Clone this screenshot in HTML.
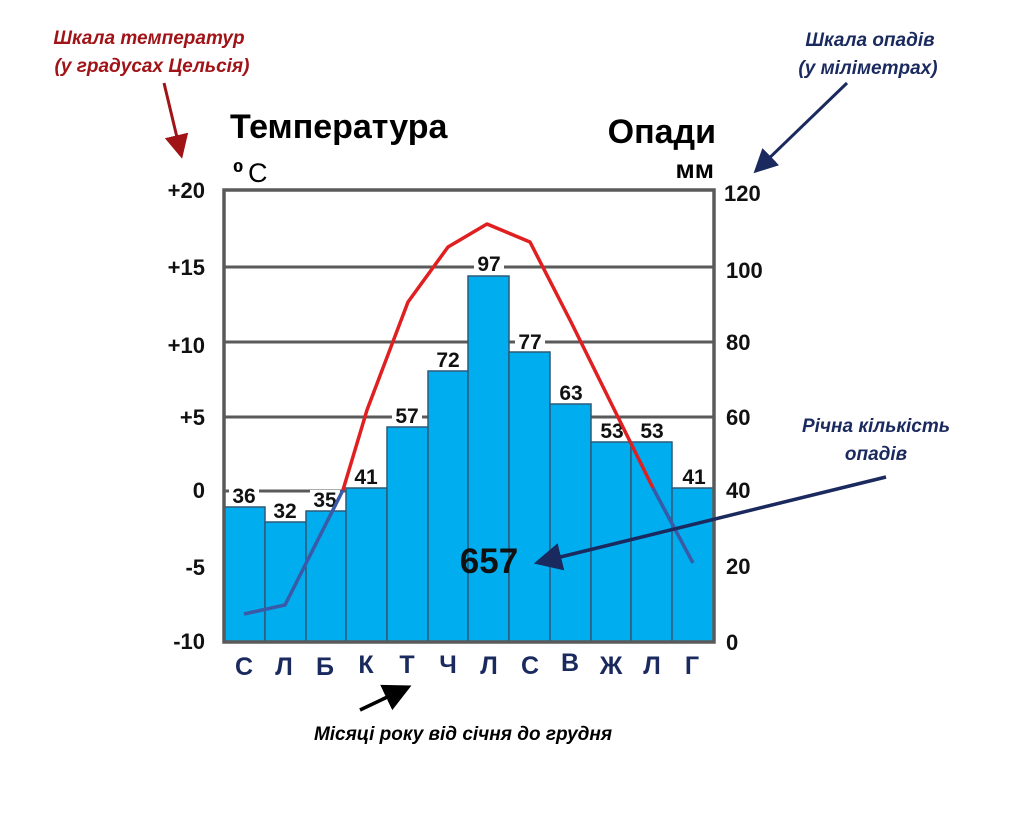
<!DOCTYPE html>
<html><head><meta charset="utf-8"><style>
body{margin:0;background:#fff;width:1036px;height:824px;overflow:hidden}
svg text{font-family:"Liberation Sans","DejaVu Sans",sans-serif}
</style></head><body>
<svg width="1036" height="824" viewBox="0 0 1036 824" xmlns="http://www.w3.org/2000/svg">
<defs>
<marker id="ar" markerWidth="8" markerHeight="8" refX="5" refY="4" orient="auto"><path d="M0,0 L8,4 L0,8 z" fill="#a01418"/></marker>
<marker id="ab" markerWidth="8" markerHeight="8" refX="5" refY="4" orient="auto"><path d="M0,0 L8,4 L0,8 z" fill="#1a2a5e"/></marker>
<marker id="ak" markerWidth="8" markerHeight="8" refX="5" refY="4" orient="auto"><path d="M0,0 L8,4 L0,8 z" fill="#000"/></marker>
</defs>
<g font-style="italic" font-weight="bold" font-size="19" text-anchor="middle">
<text x="149" y="44" fill="#a01418">Шкала температур</text>
<text x="152" y="72" fill="#a01418">(у градусах Цельсія)</text>
<text x="870" y="46" fill="#1a2a5e">Шкала опадів</text>
<text x="868" y="74" fill="#1a2a5e">(у міліметрах)</text>
<text x="876" y="432" fill="#1a2a5e">Річна кількість</text>
<text x="876" y="460" fill="#1a2a5e">опадів</text>
<text x="463" y="740" fill="#000">Місяці року від січня до грудня</text>
</g>
<line x1="164" y1="83" x2="180" y2="150" stroke="#a01418" stroke-width="3" marker-end="url(#ar)"/>
<line x1="847" y1="83" x2="760" y2="167" stroke="#1a2a5e" stroke-width="3" marker-end="url(#ab)"/>
<line x1="360" y1="710" x2="402" y2="690" stroke="#000" stroke-width="3.5" marker-end="url(#ak)"/>
<text x="230" y="138" font-size="34" font-weight="bold">Температура</text>
<text x="233" y="180" font-size="24" font-family="Liberation Serif" font-weight="bold">⁰</text>
<text x="248" y="182" font-size="27" font-family="Liberation Serif">C</text>
<text x="716" y="143" font-size="34" font-weight="bold" text-anchor="end">Опади</text>
<text x="714" y="178" font-size="26" font-weight="bold" text-anchor="end">мм</text>
<g stroke="#5a5a5a" stroke-width="3">
<line x1="224" y1="267" x2="714" y2="267"/><line x1="224" y1="342" x2="714" y2="342"/>
<line x1="224" y1="417" x2="714" y2="417"/><line x1="224" y1="491" x2="714" y2="491"/>
</g>
<g fill="#00adef" stroke="#2d5a78" stroke-width="1.5">
<rect x="224" y="507" width="41" height="135"/><rect x="265" y="522" width="41" height="120"/>
<rect x="306" y="511" width="40" height="131"/><rect x="346" y="488" width="41" height="154"/>
<rect x="387" y="427" width="41" height="215"/><rect x="428" y="371" width="40" height="271"/>
<rect x="468" y="276" width="41" height="366"/><rect x="509" y="352" width="41" height="290"/>
<rect x="550" y="404" width="41" height="238"/><rect x="591" y="442" width="40" height="200"/>
<rect x="631" y="442" width="41" height="200"/><rect x="672" y="488" width="42" height="154"/>
</g>
<rect x="224" y="190" width="490" height="452" fill="none" stroke="#5a5a5a" stroke-width="3.5"/>
<g fill="#fff">
<rect x="229" y="486" width="30" height="20"/><rect x="270" y="501" width="30" height="20"/>
<rect x="310" y="490" width="30" height="20"/><rect x="351" y="467" width="30" height="20"/>
<rect x="392" y="406" width="30" height="20"/><rect x="433" y="350" width="30" height="20"/>
<rect x="474" y="254" width="30" height="20"/><rect x="515" y="332" width="30" height="19"/>
<rect x="556" y="383" width="30" height="20"/><rect x="597" y="421" width="30" height="20"/>
<rect x="637" y="421" width="30" height="20"/><rect x="679" y="467" width="30" height="20"/>
</g>
<g font-size="21" font-weight="bold" text-anchor="middle" fill="#111">
<text x="244" y="503">36</text><text x="285" y="518">32</text><text x="325" y="507">35</text>
<text x="366" y="484">41</text><text x="407" y="423">57</text><text x="448" y="367">72</text>
<text x="489" y="271">97</text><text x="530" y="349">77</text><text x="571" y="400">63</text>
<text x="612" y="438">53</text><text x="652" y="438">53</text><text x="694" y="484">41</text>
</g>
<polyline points="244,614 285,605 343,490" fill="none" stroke="#3a5aa8" stroke-width="3.5"/>
<polyline points="653,488 693,563" fill="none" stroke="#3a5aa8" stroke-width="3.5"/>
<polyline points="343,490 367,410 408,302 448,247 487,224 530,242 571,322 612,405 653,488" fill="none" stroke="#e02020" stroke-width="3.5" stroke-linejoin="round"/>
<line x1="886" y1="477" x2="544" y2="561" stroke="#1a2a5e" stroke-width="3.5" marker-end="url(#ab)"/>
<text x="489" y="573" font-size="35" font-weight="bold" text-anchor="middle" fill="#111">657</text>
<g font-size="22" font-weight="bold" text-anchor="end" fill="#111">
<text x="205" y="198">+20</text><text x="205" y="275">+15</text><text x="205" y="353">+10</text>
<text x="205" y="425">+5</text><text x="205" y="498">0</text><text x="205" y="575">-5</text><text x="205" y="649">-10</text>
</g>
<g font-size="22" font-weight="bold" fill="#111">
<text x="724" y="201">120</text><text x="726" y="278">100</text><text x="726" y="350">80</text>
<text x="726" y="425">60</text><text x="726" y="498">40</text><text x="726" y="574">20</text><text x="726" y="650">0</text>
</g>
<g font-size="25" font-weight="bold" text-anchor="middle" fill="#1a2a5e">
<text x="244" y="675">С</text><text x="284" y="675">Л</text><text x="325" y="675">Б</text>
<text x="366" y="673">К</text><text x="407" y="673">Т</text><text x="448" y="673">Ч</text>
<text x="489" y="674">Л</text><text x="530" y="674">С</text><text x="570" y="671">В</text>
<text x="611" y="674">Ж</text><text x="652" y="674">Л</text><text x="692" y="674">Г</text>
</g>
</svg>
</body></html>
